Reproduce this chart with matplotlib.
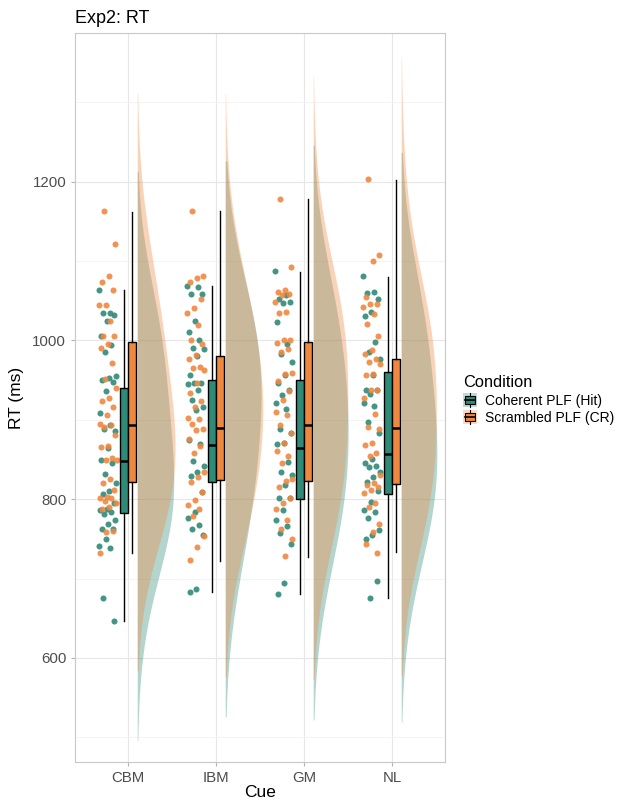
import numpy as np
import matplotlib.pyplot as plt
from matplotlib.patches import Patch, Rectangle
from matplotlib.lines import Line2D
from matplotlib.legend_handler import HandlerBase

plt.rcParams['font.family'] = ['Liberation Sans', 'DejaVu Sans']

cues = ["CBM", "IBM", "GM", "NL"]
conditions = ["Coherent PLF (Hit)", "Scrambled PLF (CR)"]
colors = ["#2f8a78", "#f0873f"]

# RT per participant (ms)
cbm_hit = [1063, 1035, 1034, 1032, 1024, 1005, 994, 986, 955, 953, 950, 948, 936, 908, 893, 889, 886,
           864, 850, 845, 832, 821, 810, 807, 795, 788, 786, 784, 781, 774, 769, 763, 762, 750, 741,
           738, 675, 646]
cbm_cr = [1163, 1121, 1081, 1074, 1063, 1045, 1045, 1024, 1005, 1005, 996, 990, 972, 951, 940, 927,
          924, 916, 906, 895, 893, 891, 881, 867, 866, 852, 850, 849, 826, 821, 811, 803, 801, 801,
          798, 795, 790, 788, 760, 759, 732]
ibm_hit = [1069, 1067, 1058, 1058, 1024, 1011, 1000, 991, 989, 980, 956, 946, 946, 945, 937, 925, 916,
           913, 874, 869, 848, 842, 834, 829, 809, 784, 776, 767, 762, 755, 687, 683]
ibm_cr = [1163, 1081, 1079, 1073, 1052, 1041, 1034, 1020, 1000, 995, 982, 976, 966, 965, 963, 947, 934,
          924, 916, 902, 901, 895, 889, 887, 876, 867, 858, 834, 828, 822, 809, 799, 793, 788, 779,
          754, 740, 724]
gm_hit = [1087, 1057, 1052, 1049, 1047, 1023, 995, 983, 973, 957, 947, 938, 931, 921, 914, 888, 883,
          871, 869, 847, 834, 831, 818, 802, 801, 786, 774, 766, 757, 744, 694, 681]
gm_cr = [1178, 1092, 1063, 1061, 1058, 1057, 1049, 1036, 1034, 1001, 1001, 997, 989, 986, 959, 958, 949,
         936, 925, 910, 906, 894, 883, 871, 861, 855, 846, 826, 823, 815, 801, 795, 788, 774, 763, 750,
         728]
nl_hit = [1081, 1061, 1060, 1052, 1036, 1031, 998, 986, 976, 956, 938, 937, 933, 921, 918, 897, 884,
          851, 846, 842, 841, 834, 828, 822, 810, 797, 786, 784, 776, 761, 755, 750, 697, 675]
nl_cr = [1203, 1108, 1100, 1055, 1046, 1046, 1042, 1033, 1021, 1005, 988, 983, 976, 973, 970, 958, 957,
         938, 937, 928, 907, 891, 889, 871, 868, 858, 854, 830, 820, 818, 816, 812, 808, 795, 790, 769,
         759, 744, 732]

# box statistics
hit_q1 = [783, 822, 800, 806]
hit_med = [848, 868, 865, 857]
hit_q3 = [940, 950, 950, 960]
hit_lo = [647, 683, 680, 675]
hit_hi = [1063, 1069, 1086, 1080]
cr_q1 = [822, 824, 823, 819]
cr_med = [893, 890, 893, 890]
cr_q3 = [998, 981, 998, 977]
cr_lo = [732, 722, 727, 733]
cr_hi = [1162, 1163, 1178, 1202]

data = {0: [cbm_hit, ibm_hit, gm_hit, nl_hit], 1: [cbm_cr, ibm_cr, gm_cr, nl_cr]}
stats = {0: (hit_q1, hit_med, hit_q3, hit_lo, hit_hi), 1: (cr_q1, cr_med, cr_q3, cr_lo, cr_hi)}


def kde(vals, adjust=1.7, cut=1.85):
    v = np.asarray(vals, float)
    n = len(v)
    iqr = np.subtract(*np.percentile(v, [75, 25]))
    bw = adjust * 0.9 * min(v.std(ddof=1), iqr / 1.34) * n ** -0.2
    grid = np.linspace(v.min() - cut * bw, v.max() + cut * bw, 400)
    dens = np.exp(-0.5 * ((grid[:, None] - v[None, :]) / bw) ** 2).sum(1) / (n * bw * np.sqrt(2 * np.pi))
    return grid, dens


fig = plt.figure(figsize=(6.19, 8), dpi=100)
ax = fig.add_axes([0.1215, 0.0475, 0.597, 0.911])

xpos = np.arange(1, len(cues) + 1)

# half violins
dens_all = {(c, i): kde(data[c][i]) for c in (0, 1) for i in range(4)}
dmax = max(d.max() for g, d in dens_all.values())
for c in (0, 1):
    for i, x in enumerate(xpos):
        g, d = dens_all[(c, i)]
        x0 = x + 0.105
        ax.fill_betweenx(g, x0, x0 + d / dmax * 0.43, color=colors[c], alpha=0.36, lw=0, zorder=1)

# jittered points
phi = 0.6180339887
for c in (0, 1):
    for i, x in enumerate(xpos):
        vals = np.asarray(data[c][i])
        k = np.arange(len(vals))
        off = ((k * phi + 0.31 * c) % 1 - 0.5) * 0.2
        ax.scatter(x - 0.23 + off, vals, s=19, color=colors[c], alpha=0.9, lw=0, zorder=3)

# boxplots
for c in (0, 1):
    q1, med, q3, lo, hi = stats[c]
    bxs = [dict(q1=q1[i], med=med[i], q3=q3[i], whislo=lo[i], whishi=hi[i], fliers=[]) for i in range(4)]
    pos = xpos + (-0.0475 if c == 0 else 0.0475)
    ax.bxp(bxs, positions=pos, widths=0.095, patch_artist=True, showcaps=False, manage_ticks=False,
           boxprops=dict(facecolor=colors[c], edgecolor="black", lw=1.0),
           medianprops=dict(color="black", lw=1.8),
           whiskerprops=dict(color="black", lw=1.0), zorder=4)

ax.set_xlim(0.4, 4.6)
ax.set_ylim(469, 1387)
ax.set_xticks(xpos)
ax.set_xticklabels(cues)
ax.set_yticks([600, 800, 1000, 1200])
ax.set_yticks([500, 700, 900, 1100, 1300], minor=True)
ax.grid(True, which="major", color="#e6e6e6", lw=0.8, zorder=0)
ax.grid(True, which="minor", axis="y", color="#f2f2f2", lw=0.6, zorder=0)
ax.set_axisbelow(True)
for s in ax.spines.values():
    s.set_color("#c8c8c8")
    s.set_linewidth(0.8)
ax.tick_params(which="major", colors="#b3b3b3", labelcolor="#4d4d4d", labelsize=10.8, length=3)
ax.tick_params(which="minor", length=0)
ax.set_xlabel("Cue", fontsize=12.5, labelpad=0)
ax.set_ylabel("RT (ms)", fontsize=12.5, labelpad=6)
ax.set_title("Exp2: RT", loc="left", fontsize=13, pad=7)


class BoxKey(HandlerBase):
    def create_artists(self, legend, orig_handle, xdescent, ydescent, width, height, fontsize, trans):
        col = orig_handle.get_facecolor()
        x0, y0 = -xdescent, -ydescent
        bg = Rectangle((x0, y0), width, height, facecolor=col, alpha=0.3, edgecolor="none", transform=trans)
        box = Rectangle((x0 + 0.12 * width, y0 + 0.22 * height), 0.76 * width, 0.56 * height,
                        facecolor=col, edgecolor="black", lw=0.8, transform=trans)
        wl = Line2D([x0 + width / 2] * 2, [y0, y0 + height], color="black", lw=0.8, transform=trans)
        md = Line2D([x0 + 0.12 * width, x0 + 0.88 * width], [y0 + height / 2] * 2, color="black", lw=1.2,
                    transform=trans)
        return [bg, wl, box, md]


handles = [Patch(facecolor=colors[c]) for c in (0, 1)]
fig.legend(handles, conditions, title="Condition", loc="center left", bbox_to_anchor=(0.733, 0.5),
           frameon=False, fontsize=10.0, title_fontsize=11.8, handler_map={Patch: BoxKey()},
           handlelength=0.95, handleheight=1.2, handletextpad=0.6, labelspacing=0.18,
           alignment="left", borderpad=0.2)

fig.savefig("out.png", dpi=100)
